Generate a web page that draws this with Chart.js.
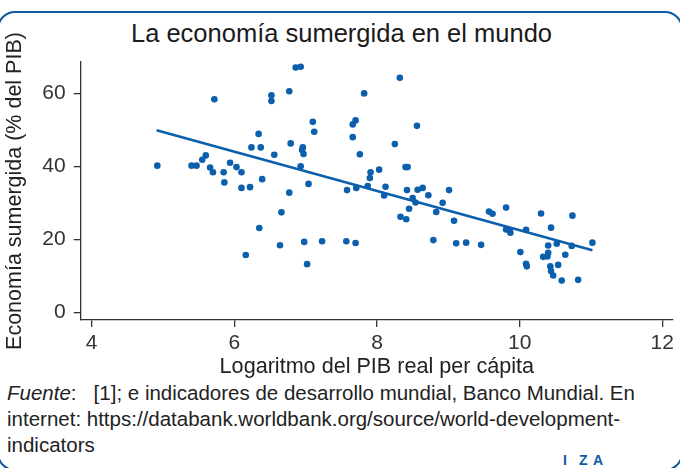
<!DOCTYPE html>
<html>
<head>
<meta charset="utf-8">
<script src="https://cdn.jsdelivr.net/npm/chart.js@4.4.0/dist/chart.umd.min.js"></script>
<style>
body{margin:0;width:680px;height:468px;overflow:hidden;background:#fff;position:relative;font-family:"Liberation Sans",Arial,sans-serif;}
#marco{position:absolute;left:-3px;top:11px;width:686px;height:460px;border:2.5px solid #0c5aa6;border-radius:18px;box-sizing:border-box;}
#titulo{position:absolute;top:18px;left:0;width:683px;text-align:center;font-size:25.5px;line-height:30px;color:#1a1a1a;}
#grafico{position:absolute;left:0;top:0;}
#fuente{position:absolute;left:7px;top:380px;font-size:20.5px;line-height:26px;color:#222;white-space:nowrap;}
.iza{position:absolute;top:453px;font-size:14px;line-height:14px;font-weight:bold;color:#0c5aa6;}
</style>
</head>
<body>
<div id="marco"></div>
<div id="titulo">La economía sumergida en el mundo</div>
<canvas id="grafico" width="680" height="380"></canvas>
<div id="fuente"><i>Fuente</i>:&nbsp;&nbsp; [1]; e indicadores de desarrollo mundial, Banco Mundial. En<br>internet: https://databank.worldbank.org/source/world-development-<br>indicators</div>
<span class="iza" style="left:563px">I</span><span class="iza" style="left:579px">Z</span><span class="iza" style="left:593px">A</span>
<script>
// datos
var logPib = [5.72, 6.52, 6.52, 4.92, 5.40, 5.47, 5.55, 5.60, 5.66, 5.70,
	5.85, 5.86, 5.94, 6.03, 6.10, 6.10, 6.22, 6.34, 6.24, 6.37,
	6.39, 6.56, 6.86, 6.93, 6.77, 8.32, 7.82, 7.10, 7.12, 7.66,
	7.70, 7.66, 8.56, 6.79, 6.96, 6.95, 6.97, 8.25, 7.76, 6.93,
	7.91, 7.90, 8.03, 8.40, 8.43, 7.04, 7.58, 7.71, 7.87, 8.12,
	6.77, 8.42, 8.57, 8.64, 8.10, 8.50, 8.72, 9.01, 8.54, 8.92,
	6.66, 8.45, 8.83, 8.33, 8.41, 9.08, 6.64, 6.98, 7.23, 7.57,
	7.70, 7.02, 8.79, 9.11, 9.25, 6.35, 6.16, 9.46, 9.57, 9.62,
	9.81, 9.81, 9.86, 9.87, 10.09, 10.30, 10.44, 10.74, 10.01, 10.09,
	10.10, 10.40, 10.52, 10.73, 11.02, 10.33, 10.39, 10.40, 10.64, 10.43,
	10.44, 10.47, 10.54, 10.59, 10.82];
var sumergida = [58.4, 59.5, 57.9, 40.2, 40.2, 40.2, 41.8, 43.0, 39.7, 38.4,
	38.4, 35.6, 41.0, 39.8, 38.4, 34.1, 34.3, 48.9, 45.2, 45.2,
	36.5, 43.2, 67.1, 67.3, 60.6, 64.3, 60.0, 52.2, 49.5, 51.5,
	52.6, 48.0, 51.1, 46.3, 45.2, 44.5, 43.4, 46.1, 43.3, 40.0,
	38.4, 36.8, 39.1, 39.8, 39.8, 35.2, 33.5, 34.1, 34.6, 34.4,
	32.8, 33.5, 33.6, 34.1, 32.0, 31.3, 32.1, 33.5, 30.1, 30.0,
	27.4, 28.4, 27.5, 26.2, 25.5, 25.1, 18.4, 19.3, 19.5, 19.5,
	19.0, 13.2, 19.8, 18.9, 19.1, 23.1, 15.7, 18.5, 27.6, 27.0,
	28.7, 22.7, 22.4, 21.8, 22.6, 27.1, 23.2, 26.5, 16.5, 13.3,
	12.6, 18.3, 18.8, 18.2, 19.1, 15.2, 15.3, 16.3, 15.8, 12.6,
	11.3, 10.1, 13.0, 8.7, 8.9];
// recta de ajuste (extremos)
var ajusteX = [4.91, 11.02];
var ajusteY = [49.9, 17.0];
var ticksX = [4, 6, 8, 10, 12];
var ticksY = [0, 20, 40, 60];

var azul = '#0b5fad';
var gris = '#333333';

var puntos = [];
for (var i in logPib) {
	puntos.push({x: logPib[i], y: sumergida[i]});
}
var recta = [];
for (var j in ajusteX) {
	recta.push({x: ajusteX[j], y: ajusteY[j]});
}

Chart.defaults.font.family = '"Liberation Sans", Arial, sans-serif';

var ctx = document.getElementById('grafico');
var grafico = new Chart(ctx, {
	type: 'scatter',
	data: {
		datasets: [
			{
				data: recta,
				showLine: true,
				borderColor: azul,
				borderWidth: 2.6,
				pointRadius: 0
			},
			{
				data: puntos,
				backgroundColor: azul,
				borderColor: azul,
				borderWidth: 0,
				pointRadius: 3.3
			}
		]
	},
	options: {
		responsive: false,
		animation: false,
		devicePixelRatio: 1,
		layout: {padding: {top: 62, right: 7, left: 0, bottom: 0}},
		plugins: {legend: {display: false}, tooltip: {enabled: false}},
		scales: {
			x: {
				type: 'linear',
				min: 3.846,
				max: 12.15,
				afterBuildTicks: function(s) { s.ticks = ticksX.map(function(v) { return {value: v}; }); },
				afterFit: function(s) { s.height = 60; s.paddingLeft = 0; s.paddingRight = 0; },
				grid: {drawOnChartArea: false, drawTicks: true, tickLength: 7, color: gris, lineWidth: 1.3},
				border: {color: gris, width: 1.3},
				ticks: {padding: 4, color: gris, font: {size: 21}},
				title: {display: true, text: 'Logaritmo del PIB real per cápita', color: '#222', font: {size: 21.6}, padding: {top: 0, bottom: 0}}
			},
			y: {
				min: -2.1,
				max: 68.6,
				afterBuildTicks: function(s) { s.ticks = ticksY.map(function(v) { return {value: v}; }); },
				afterFit: function(s) { s.width = 80.7; },
				grid: {drawOnChartArea: false, drawTicks: true, tickLength: 7, color: gris, lineWidth: 1.3},
				border: {color: gris, width: 1.3},
				ticks: {padding: 8, color: gris, font: {size: 21}},
				title: {display: true, text: 'Economía sumergida (% del PIB)', color: '#222', font: {size: 21.5}, padding: {top: 2.6, bottom: 0}}
			}
		}
	}
});
</script>
</body>
</html>
